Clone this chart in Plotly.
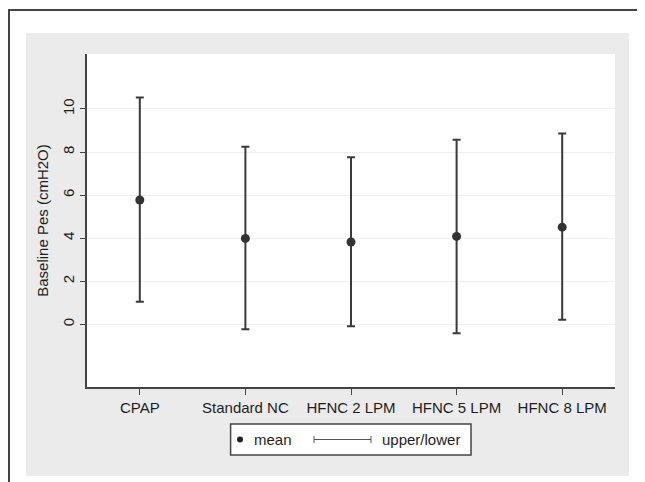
import plotly.graph_objects as go

categories = ["CPAP", "Standard NC", "HFNC 2 LPM", "HFNC 5 LPM", "HFNC 8 LPM"]
mean_vals = [5.77, 3.99, 3.82, 4.08, 4.51]
upper_vals = [10.53, 8.24, 7.76, 8.57, 8.86]
lower_vals = [1.05, -0.23, -0.09, -0.41, 0.21]
y_ticks = [0, 2, 4, 6, 8, 10]
series_names = ["mean", "upper/lower"]
y_title = "Baseline Pes (cmH2O)"

W, H = 645, 482
OFF = 8  # page body margin offset
L, R, T, B = 87 - OFF, 30 + OFF, 54 - OFF, 95 + OFF
PW = W - L - R
PH = H - T - B


def px(xp):
    # xp given in window pixels
    return (xp - OFF - L) / PW


def py(yp):
    return (H - B - (yp - OFF)) / PH


FONT = "Liberation Sans, Arial, Helvetica, sans-serif"
TXT = "#1e1e1e"
DARK = "#3a3a3a"

err_plus = [u - m for u, m in zip(upper_vals, mean_vals)]
err_minus = [m - l for m, l in zip(mean_vals, lower_vals)]

fig = go.Figure()
fig.add_trace(go.Scatter(
    x=categories, y=mean_vals, mode="markers", name=series_names[0],
    marker=dict(size=9, color="#333333"),
    error_y=dict(type="data", symmetric=False, array=err_plus, arrayminus=err_minus,
                 color=DARK, thickness=2, width=4),
    showlegend=False,
))

shapes = []
# outer frame (top & left visible)
shapes.append(dict(type="rect", xref="paper", yref="paper",
                   x0=px(9), x1=px(720), y0=py(580), y1=py(10),
                   line=dict(color="#444444", width=2), fillcolor="rgba(0,0,0,0)", layer="below"))
# gray panel
shapes.append(dict(type="rect", xref="paper", yref="paper",
                   x0=px(26), x1=px(629), y0=py(476), y1=py(33),
                   line=dict(width=0), fillcolor="#ebebeb", layer="below"))
# white plot region
shapes.append(dict(type="rect", xref="paper", yref="paper",
                   x0=0, x1=1, y0=0, y1=1,
                   line=dict(width=0), fillcolor="#ffffff", layer="below"))
# legend box
ly = py(439.5)
shapes.append(dict(type="rect", xref="paper", yref="paper",
                   x0=px(230.6), x1=px(471), y0=py(455), y1=py(424),
                   line=dict(color="#444444", width=1.5), fillcolor="#ffffff", layer="above"))
# legend dot
shapes.append(dict(type="circle", xref="paper", yref="paper",
                   xsizemode="pixel", ysizemode="pixel",
                   xanchor=px(240), yanchor=ly, x0=-3, x1=3, y0=-3, y1=3,
                   line=dict(width=0), fillcolor="#222222", layer="above"))
# legend range-cap symbol
shapes.append(dict(type="line", xref="paper", yref="paper",
                   x0=px(314), x1=px(371), y0=ly, y1=ly,
                   line=dict(color="#555555", width=1), layer="above"))
for xc in (314, 371):
    shapes.append(dict(type="line", xref="paper", yref="paper",
                       ysizemode="pixel", yanchor=ly,
                       x0=px(xc), x1=px(xc), y0=-3.5, y1=3.5,
                       line=dict(color="#555555", width=1), layer="above"))

annotations = [
    dict(text=series_names[0], xref="paper", yref="paper", x=px(252), y=ly,
         xanchor="left", yanchor="middle", showarrow=False,
         font=dict(family=FONT, size=15, color=TXT)),
    dict(text=series_names[1], xref="paper", yref="paper", x=px(379.5), y=ly,
         xanchor="left", yanchor="middle", showarrow=False,
         font=dict(family=FONT, size=15, color=TXT)),
]

fig.update_layout(
    width=W, height=H,
    margin=dict(l=L, r=R, t=T, b=B, pad=0),
    paper_bgcolor="#ffffff", plot_bgcolor="#ffffff",
    font=dict(family=FONT, size=15, color=TXT),
    shapes=shapes, annotations=annotations,
    showlegend=False,
    xaxis=dict(
        type="category", categoryorder="array", categoryarray=categories,
        range=[-0.5, 4.5], showgrid=False, zeroline=False,
        showline=True, linecolor="#444444", linewidth=1.5,
        ticks="outside", ticklen=6, tickwidth=1.2, tickcolor="#444444",
        tickfont=dict(size=15, color=TXT, family=FONT),
    ),
    yaxis=dict(
        range=[-2.91, 12.55], tickvals=y_ticks, ticktext=[str(v) for v in y_ticks],
        tickangle=-90, showgrid=True, gridcolor="#efefef", gridwidth=1,
        zeroline=False, showline=True, linecolor="#444444", linewidth=1.5,
        ticks="outside", ticklen=5, tickwidth=1.2, tickcolor="#444444",
        tickfont=dict(size=15, color=TXT, family=FONT),
        title=dict(text=y_title, font=dict(size=15, color=TXT, family=FONT), standoff=8),
    ),
)

fig.write_html("out.html")
